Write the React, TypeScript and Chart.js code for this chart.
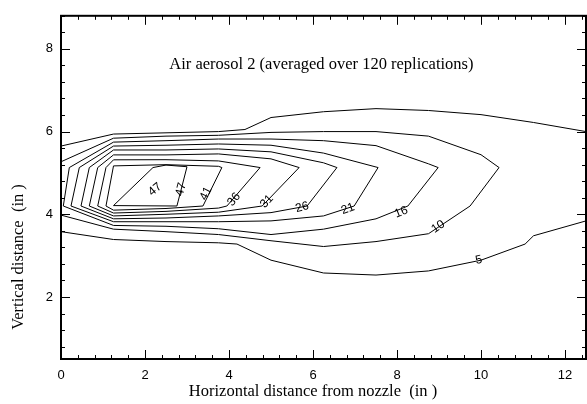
import React, { useEffect, useRef } from 'react';
import { Chart, registerables } from 'chart.js';

Chart.register(...registerables);

// Axis ranges and tick labels
const xMin = 0;
const xMax = 12.5;
const yMin = 0.5;
const yMax = 8.8;
const xTickValues = [0, 2, 4, 6, 8, 10, 12];
const yTickValues = [2, 4, 6, 8];
const minorStep = 0.4;

// Contour polylines [x, y] (inches)
const contour5Top = [[0, 5.65], [1.25, 5.94], [2.5, 5.97], [3.75, 6.0], [4.38, 6.05], [5, 6.34], [6.25, 6.48], [7.5, 6.555], [8.75, 6.51], [10, 6.41], [11.25, 6.22], [12.5, 6.0]];
const contour5Bottom = [[0, 3.58], [1.25, 3.39], [2.5, 3.34], [3.75, 3.31], [4.19, 3.28], [5, 2.89], [6.25, 2.58], [7.5, 2.53], [8.75, 2.63], [10, 2.89], [11.05, 3.28], [11.25, 3.48], [12.5, 3.84]];
const contour10 = [[0, 5.27], [1.25, 5.84], [2.5, 5.89], [3.75, 5.91], [5, 5.98], [6.25, 6.0], [7.5, 6.0], [8.75, 5.89], [10, 5.44], [10.43, 5.13], [9.74, 4.2], [8.75, 3.53], [7.5, 3.34], [6.25, 3.22], [5, 3.36], [3.75, 3.51], [2.5, 3.58], [1.25, 3.64], [0, 3.98]];
const contour16 = [[0.055, 4.2], [0.198, 5.13], [1.25, 5.745], [2.5, 5.78], [3.75, 5.82], [5, 5.82], [6.25, 5.78], [7.5, 5.66], [8.75, 5.22], [8.98, 5.13], [8.26, 4.2], [7.5, 3.89], [6.25, 3.64], [5, 3.51], [3.75, 3.65], [2.5, 3.71], [1.25, 3.73], [0.055, 4.2]];
const contour21 = [[0.238, 4.2], [0.436, 5.13], [1.25, 5.65], [2.5, 5.67], [3.75, 5.7], [5, 5.67], [6.25, 5.48], [7.55, 5.13], [6.98, 4.2], [6.25, 3.96], [5, 3.84], [3.75, 3.82], [2.5, 3.82], [1.25, 3.82], [0.238, 4.2]];
const contour26 = [[0.476, 4.2], [0.674, 5.13], [1.25, 5.555], [2.5, 5.555], [3.75, 5.58], [5, 5.51], [6.25, 5.245], [6.57, 5.13], [5.86, 4.2], [5, 4.04], [3.75, 3.96], [2.5, 3.91], [1.25, 3.89], [0.476, 4.2]];
const contour31 = [[0.674, 4.2], [0.874, 5.13], [1.25, 5.436], [2.5, 5.436], [3.75, 5.46], [5, 5.34], [5.67, 5.13], [4.79, 4.2], [3.75, 4.05], [2.5, 4.0], [1.25, 3.96], [0.674, 4.2]];
const contour36 = [[0.874, 4.2], [1.071, 5.13], [1.25, 5.317], [2.5, 5.32], [3.75, 5.29], [4.74, 5.13], [3.95, 4.2], [3.75, 4.15], [2.5, 4.07], [1.25, 4.03], [0.874, 4.2]];
const contour41 = [[1.071, 4.2], [1.25, 5.17], [2.5, 5.2], [3.75, 5.16], [3.83, 5.13], [3.38, 4.2], [2.5, 4.14], [1.25, 4.1], [1.071, 4.2]];
const contour47 = [[1.25, 4.21], [2.19, 5.13], [2.5, 5.19], [3.0, 5.15], [2.76, 4.2], [1.25, 4.21]];

const contours = [contour5Top, contour5Bottom, contour10, contour16, contour21, contour26, contour31, contour36, contour41, contour47];

// Contour labels
const labelTexts = ['47', '47', '41', '36', '31', '26', '21', '16', '10', '5'];
const labelXs = [2.24, 2.86, 3.45, 4.12, 4.9, 5.74, 6.83, 8.1, 8.98, 9.95];
const labelYs = [4.6, 4.6, 4.5, 4.36, 4.31, 4.17, 4.13, 4.05, 3.7, 2.89];
const labelAngles = [-40, -75, -64, -50, -47, -15, -20, -22, -34, -12];

const titleText = 'Air aerosol 2 (averaged over 120 replications)';
const titleX = 6.2;
const titleY = 7.62;
const xTitle = 'Horizontal distance from nozzle  (in )';
const yTitle = 'Vertical distance  (in )';

const serif = '"Liberation Serif", "Times New Roman", serif';
const sans = '"Liberation Sans", Arial, sans-serif';

const decorPlugin = {
  id: 'decor',
  afterDatasetsDraw(chart: any) {
    const { ctx, chartArea: a } = chart;
    const xs = chart.scales.x;
    const ys = chart.scales.y;
    ctx.save();
    ctx.strokeStyle = '#000';
    ctx.fillStyle = '#000';
    // ticks (inward, all four sides)
    ctx.lineWidth = 1;
    for (let i = 0; ; i++) {
      const v = xMin + i * minorStep;
      if (v > xMax + 1e-6) break;
      const major = Math.abs(v / 2 - Math.round(v / 2)) < 1e-6;
      const len = major ? 9 : 4;
      const px = Math.round(xs.getPixelForValue(v)) + 0.5;
      ctx.beginPath();
      ctx.moveTo(px, a.bottom);
      ctx.lineTo(px, a.bottom - len);
      ctx.moveTo(px, a.top);
      ctx.lineTo(px, a.top + len);
      ctx.stroke();
    }
    for (let i = 0; ; i++) {
      const v = i * minorStep;
      if (v > yMax + 1e-6) break;
      if (v < yMin - 1e-6) continue;
      const major = Math.abs(v / 2 - Math.round(v / 2)) < 1e-6;
      const len = major ? 9 : 4;
      const py = Math.round(ys.getPixelForValue(v)) + 0.5;
      ctx.beginPath();
      ctx.moveTo(a.left, py);
      ctx.lineTo(a.left + len, py);
      ctx.moveTo(a.right, py);
      ctx.lineTo(a.right - len, py);
      ctx.stroke();
    }
    // frame
    ctx.lineWidth = 2;
    ctx.strokeRect(a.left, a.top, a.right - a.left, a.bottom - a.top);

    // contour labels
    ctx.font = '12px ' + sans;
    ctx.textAlign = 'center';
    ctx.textBaseline = 'middle';
    labelTexts.forEach((t, i) => {
      const px = xs.getPixelForValue(labelXs[i]);
      const py = ys.getPixelForValue(labelYs[i]);
      ctx.save();
      ctx.translate(px, py);
      ctx.rotate((labelAngles[i] * Math.PI) / 180);
      ctx.fillText(t, 0, 0);
      ctx.restore();
    });

    // in-plot title
    ctx.font = '16.5px ' + serif;
    ctx.fillText(titleText, xs.getPixelForValue(titleX), ys.getPixelForValue(titleY));

    // axis titles
    ctx.font = '16.5px ' + serif;
    ctx.fillText(xTitle, 313, 392);
    ctx.save();
    ctx.translate(19, 257);
    ctx.rotate(-Math.PI / 2);
    ctx.fillText(yTitle, 0, 0);
    ctx.restore();
    ctx.restore();
  },
};

export default function App() {
  const ref = useRef<HTMLCanvasElement | null>(null);
  useEffect(() => {
    if (!ref.current) return;
    const datasets = contours.map((c) => ({
      data: c.map(([x, y]) => ({ x, y })),
      showLine: true,
      borderColor: '#000',
      borderWidth: 1,
      pointRadius: 0,
      tension: 0,
      fill: false,
    }));
    const chart = new Chart(ref.current, {
      type: 'scatter',
      data: { datasets },
      options: {
        animation: false,
        responsive: false,
        devicePixelRatio: 1,
        layout: { padding: { top: 11, right: 1, left: 0, bottom: 0 } },
        plugins: { legend: { display: false }, tooltip: { enabled: false } },
        scales: {
          x: {
            type: 'linear',
            min: xMin,
            max: xMax,
            grid: { display: false, drawTicks: false },
            border: { display: false },
            afterBuildTicks: (s: any) => {
              s.ticks = xTickValues.map((v) => ({ value: v }));
            },
            afterFit: (s: any) => {
              s.height = 45;
            },
            ticks: {
              color: '#000',
              font: { family: sans, size: 13 },
              padding: 9,
              maxRotation: 0,
              autoSkip: false,
              callback: (v: any) => String(v),
            },
          },
          y: {
            type: 'linear',
            min: yMin,
            max: yMax,
            grid: { display: false, drawTicks: false },
            border: { display: false },
            afterBuildTicks: (s: any) => {
              s.ticks = yTickValues.map((v) => ({ value: v }));
            },
            afterFit: (s: any) => {
              s.width = 61;
            },
            ticks: {
              color: '#000',
              font: { family: sans, size: 13 },
              padding: 8,
              autoSkip: false,
              callback: (v: any) => String(v),
            },
          },
        },
      },
      plugins: [decorPlugin],
    });
    return () => chart.destroy();
  }, []);
  return (
    <div style={{ position: 'absolute', left: 0, top: 0, width: 587, height: 404, background: '#fff' }}>
      <canvas ref={ref} width={587} height={404} style={{ width: 587, height: 404 }} />
    </div>
  );
}
